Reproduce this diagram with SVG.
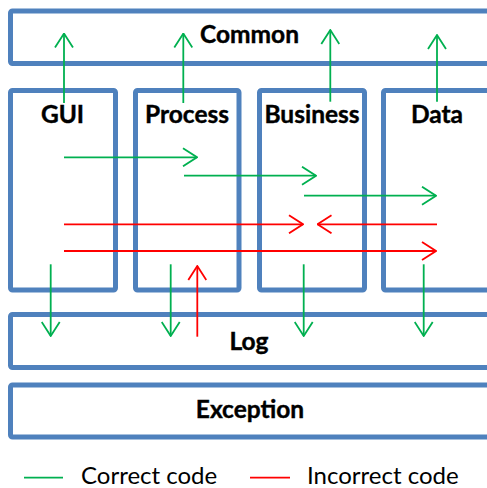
<svg xmlns="http://www.w3.org/2000/svg" width="487" height="488" viewBox="0 0 487 488">
<defs>
<style>
.box{fill:#fff;stroke:#4F81BD;stroke-width:5}
.lbl{font-family:Lato,"Open Sans","Liberation Sans",sans-serif;font-weight:bold;font-size:24.5px;fill:#000;text-anchor:middle;stroke:#000;stroke-width:0.4}
.leg{font-family:Lato,"Open Sans","Liberation Sans",sans-serif;font-size:24px;fill:#000}
.g{stroke:#00B050;stroke-width:1.8;fill:none}
.r{stroke:#FF0000;stroke-width:1.8;fill:none}
</style>
<marker id="ag" viewBox="0 0 16 20" refX="15" refY="10" markerWidth="16" markerHeight="20" markerUnits="userSpaceOnUse" orient="auto">
<path d="M1,1 L15,10 L1,19" fill="none" stroke="#00B050" stroke-width="1.8"/>
</marker>
<marker id="ar" viewBox="0 0 16 20" refX="15" refY="10" markerWidth="16" markerHeight="20" markerUnits="userSpaceOnUse" orient="auto">
<path d="M1,1 L15,10 L1,19" fill="none" stroke="#FF0000" stroke-width="1.8"/>
</marker>
</defs>
<rect width="487" height="488" fill="#fff"/>
<g id="common"><rect class="box" x="10.5" y="11" width="490" height="52.5" rx="2"/><text class="lbl" x="249.5" y="43">Common</text></g>
<g id="gui"><rect class="box" x="10.5" y="90.5" width="105" height="199.5" rx="2"/><text class="lbl" x="62.5" y="122.5">GUI</text></g>
<g id="process"><rect class="box" x="135.5" y="90.5" width="103.5" height="199.5" rx="2"/><text class="lbl" x="187" y="122.5">Process</text></g>
<g id="business"><rect class="box" x="259.5" y="90.5" width="105" height="199.5" rx="2"/><text class="lbl" x="312" y="122.5">Business</text></g>
<g id="data"><rect class="box" x="383.5" y="90.5" width="120" height="199.5" rx="2"/><text class="lbl" x="437" y="122.5">Data</text></g>
<g id="log"><rect class="box" x="10.5" y="314.5" width="490" height="53" rx="2"/><text class="lbl" x="249" y="350">Log</text></g>
<g id="exception"><rect class="box" x="10.5" y="385" width="490" height="52" rx="2"/><text class="lbl" x="250" y="417.5">Exception</text></g>
<g id="connectors">
<line class="g" x1="64" y1="103" x2="64" y2="33.5" marker-end="url(#ag)"/>
<line class="g" x1="183.3" y1="103" x2="183.3" y2="33.5" marker-end="url(#ag)"/>
<line class="g" x1="330.3" y1="101.7" x2="330.3" y2="30" marker-end="url(#ag)"/>
<line class="g" x1="437" y1="101.7" x2="437" y2="35" marker-end="url(#ag)"/>
<line class="g" x1="64" y1="157.3" x2="197" y2="157.3" marker-end="url(#ag)"/>
<line class="g" x1="184" y1="175.7" x2="316" y2="175.7" marker-end="url(#ag)"/>
<line class="g" x1="304" y1="195.7" x2="436" y2="195.7" marker-end="url(#ag)"/>
<line class="r" x1="64" y1="224.3" x2="303" y2="224.3" marker-end="url(#ar)"/>
<line class="r" x1="437" y1="224.3" x2="317.5" y2="224.3" marker-end="url(#ar)"/>
<line class="r" x1="64" y1="251" x2="436" y2="251" marker-end="url(#ar)"/>
<line class="r" x1="197.3" y1="336.7" x2="197.3" y2="266" marker-end="url(#ar)"/>
<line class="g" x1="50.7" y1="264.3" x2="50.7" y2="336" marker-end="url(#ag)"/>
<line class="g" x1="170.7" y1="264.3" x2="170.7" y2="336" marker-end="url(#ag)"/>
<line class="g" x1="303.7" y1="264.3" x2="303.7" y2="336" marker-end="url(#ag)"/>
<line class="g" x1="423.7" y1="264.3" x2="423.7" y2="336" marker-end="url(#ag)"/>
</g>
<g id="legend">
<line class="g" x1="24" y1="477.7" x2="63" y2="477.7"/>
<text class="leg" x="81" y="484">Correct code</text>
<line class="r" x1="250" y1="477.7" x2="290" y2="477.7"/>
<text class="leg" x="307" y="484">Incorrect code</text>
</g>
</svg>
